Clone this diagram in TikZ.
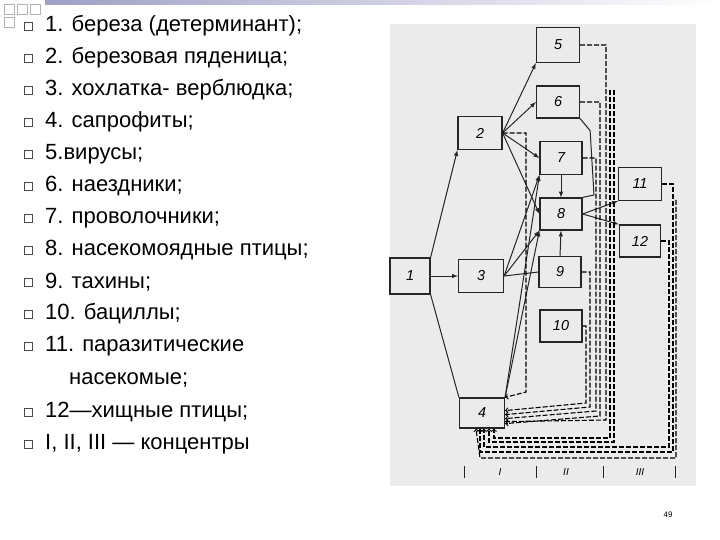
\documentclass[tikz,border=0pt]{standalone}
\usepackage{fontspec}
\setmainfont{Liberation Sans}
\begin{document}
\begin{tikzpicture}[x=1pt,y=-1pt,
 bx/.style={draw=black!85,line width=1.2pt,fill=none,font=\itshape\Large,inner sep=0},
 ar/.style={draw=black!85,line width=1pt,-latex},
 ln/.style={draw=black!85,line width=1pt},
 ds/.style={draw=black,line width=1.1pt,dash pattern=on 5pt off 2pt},
 lt/.style={anchor=west,font=\fontsize{22}{24}\selectfont,inner sep=0}]
\useasboundingbox (0,0) rectangle (720,540);
\fill[white] (0,0) rectangle (720,540);
\shade[left color=blue!25!gray!60,right color=white] (45,0) rectangle (720,5);
\foreach \x/\y in {4/4,17/4,4/17,30/4} \draw[gray!60,fill=white] (\x,\y) rectangle ++(10,10);
% list
\foreach \t [count=\i] in {1. береза (детерминант);,2. березовая пяденица;,3. хохлатка- верблюдка;,4. сапрофиты;,5.вирусы;,6. наездники;,7. проволочники;,8. насекомоядные птицы;,9. тахины;,10. бациллы;,11. паразитические}{
 \draw[black!70] (24,{26+(\i-1)*32-4}) rectangle ++(8,8);
 \node[lt] (L\i) at (45,{26+(\i-1)*32}) {\t};}
\node[lt] (L11b) at (69,380) {насекомые;};
\draw[black!70] (24,408) rectangle ++(8,8);
\node[lt] (L12) at (45,412) {12—хищные птицы;};
\draw[black!70] (24,440) rectangle ++(8,8);
\node[lt] (L13) at (45,444) {I, II, III — концентры};
\node[font=\footnotesize] (pg) at (668,515) {49};
% panel
\fill[black!8] (390,24) rectangle (696,486);
\node[bx,minimum width=43,minimum height=35] (n5) at (558,45) {5};
\node[bx,minimum width=43,minimum height=32] (n6) at (558,102) {6};
\node[bx,minimum width=44,minimum height=33] (n2) at (480,133) {2};
\node[bx,minimum width=42,minimum height=33] (n7) at (561,158) {7};
\node[bx,minimum width=42,minimum height=32] (n8) at (561,214) {8};
\node[bx,minimum width=43,minimum height=33] (n11) at (640,184) {11};
\node[bx,minimum width=41,minimum height=32] (n12) at (640,241) {12};
\node[bx,minimum width=40,minimum height=36] (n1) at (410,276) {1};
\node[bx,minimum width=45,minimum height=33] (n3) at (481,276) {3};
\node[bx,minimum width=42,minimum height=31] (n9) at (560,272) {9};
\node[bx,minimum width=42,minimum height=32] (n10) at (561,326) {10};
\node[bx,minimum width=45,minimum height=30] (n4) at (482,413) {4};
% solid
\draw[ar] (n1.north east) -- (n2.south west);
\draw[ar] (n1.east) -- (n3.west);
\draw[ln] (n1.south east) -- (n4.north west);
\draw[ar] (n2.east) -- (n5.south west);
\draw[ar] (n2.east) -- (n6.west);
\draw[ar] (n2.east) -- (n7.west);
\draw[ar] (n2.east) -- (n8.west);
\draw[ar] (n3.east) -- (n7.south west);
\draw[ar] (n3.east) -- (n8.south west);
\draw[ln] (n3.east) -- (n9.west);
\draw[ar] (n4.north east) -- (n7.south west);
\draw[ar] (n4.north east) -- (n8.south west);
\draw[ar] (n7.south) -- (n8.north);
\draw[ar] (n9.north) -- (n8.south);
\draw[ar] (n8.east) -- (n11.south west);
\draw[ar] (n8.east) -- (n12.north west);
\draw[ln] (n6.south east) -- ++(10,12) -- (594,195) -- (n8.north east);
% dashed to 4
\draw[ds,->] (n2.east) -- (526,133) -- (526,392) -- (n4.north east);
\draw[ds,->] (n5.east) -- (606,45) -- (606,420) -- ([yshift=7pt]n4.south east);
\draw[ds,->] (n6.east) -- (600,102) -- (600,416) -- ([yshift=5pt]n4.south east);
\draw[ds,->] (n7.east) -- (596,158) -- (596,411) -- ([yshift=10pt]n4.south east);
\draw[ds,->] (n9.east) -- (590,272) -- (590,407) -- ([yshift=14pt]n4.south east);
\draw[ds,->] (n10.east) -- (586,326) -- (586,403) -- ([yshift=18pt]n4.south east);
\draw[ds,->] (610,90) -- (610,438) -- (494,438) -- ([xshift=12pt]n4.south);
\draw[ds,->] (614,90) -- (614,442) -- (489,442) -- ([xshift=7pt]n4.south);
\draw[ds,->] (n11.east) -- (673,184) -- (673,452) -- (480,452) -- ([xshift=-2pt]n4.south);
\draw[ds,->] (n12.east) -- (669,241) -- (669,447) -- (484,447) -- ([xshift=2pt]n4.south);
\draw[ds,->] (676,200) -- (676,458) -- (480,458) -- ([xshift=-6pt]n4.south);
% bottom labels
\foreach \x in {464,536,603,675} \draw[ln] (\x,466) -- (\x,478);
\node[font=\itshape] (c1) at (500,472) {I};
\node[font=\itshape] (c2) at (566,472) {II};
\node[font=\itshape] (c3) at (640,472) {III};
\end{tikzpicture}
\end{document}
